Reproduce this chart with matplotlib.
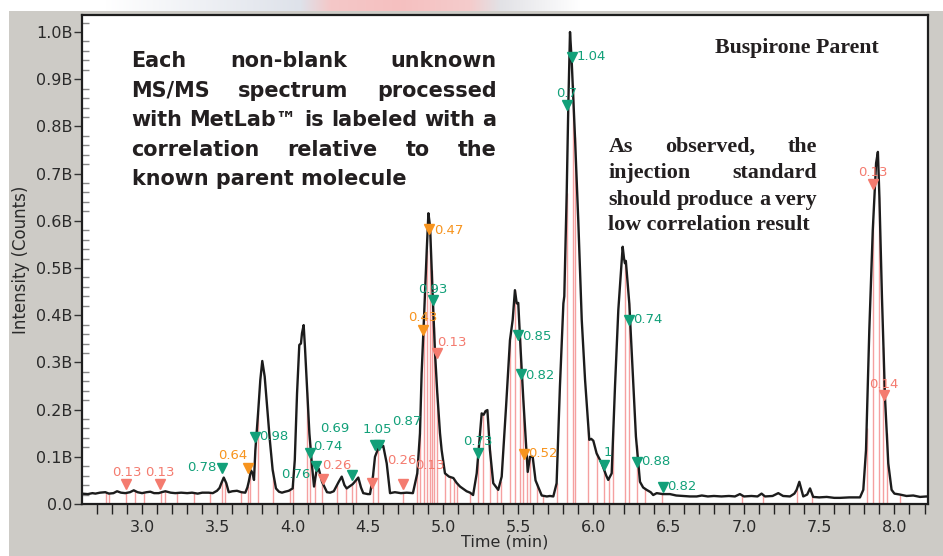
import numpy as np
import matplotlib
matplotlib.use('Agg')
import matplotlib.pyplot as plt
from matplotlib.patches import Rectangle, FancyArrowPatch

# ---------------- data ----------------
time_min = [2.60, 2.64, 2.67, 2.69, 2.72, 2.756, 2.78, 2.81, 2.834, 2.86, 2.889, 2.92, 2.945, 2.97,
            3.00, 3.03, 3.055, 3.08, 3.111, 3.13, 3.155, 3.19, 3.221, 3.26, 3.30, 3.332, 3.37, 3.40,
            3.443, 3.47, 3.498, 3.515, 3.527, 3.543, 3.56, 3.576, 3.60, 3.631, 3.66, 3.686, 3.70,
            3.709, 3.724, 3.735, 3.744, 3.753, 3.771, 3.786, 3.799, 3.815, 3.831, 3.849, 3.868, 3.89,
            3.91, 3.93, 3.95, 3.975, 4.001, 4.015, 4.03, 4.045, 4.056, 4.063, 4.074, 4.083, 4.096,
            4.112, 4.13, 4.143, 4.158, 4.174, 4.196, 4.229, 4.25, 4.274, 4.307, 4.327, 4.345, 4.36,
            4.40, 4.437, 4.455, 4.47, 4.50, 4.515, 4.535, 4.548, 4.57, 4.603, 4.626, 4.648, 4.68,
            4.72, 4.759, 4.80, 4.829, 4.847, 4.858, 4.874, 4.892, 4.903, 4.914, 4.931, 4.947, 4.962,
            4.98, 4.991, 5.013, 5.04, 5.069, 5.09, 5.113, 5.157, 5.18, 5.20, 5.224, 5.246, 5.257,
            5.27, 5.283, 5.295, 5.312, 5.334, 5.367, 5.39, 5.419, 5.445, 5.463, 5.478, 5.49, 5.50,
            5.516, 5.534, 5.551, 5.563, 5.578, 5.596, 5.615, 5.656, 5.69, 5.711, 5.733, 5.755, 5.777,
            5.80, 5.806, 5.822, 5.833, 5.844, 5.855, 5.877, 5.899, 5.922, 5.944, 5.972, 5.985, 5.999,
            6.021, 6.055, 6.085, 6.098, 6.121, 6.143, 6.165, 6.194, 6.203, 6.209, 6.215, 6.238, 6.26,
            6.282, 6.309, 6.33, 6.353, 6.38, 6.397, 6.42, 6.46, 6.508, 6.55, 6.60, 6.641, 6.686, 6.72,
            6.76, 6.80, 6.85, 6.90, 6.94, 6.973, 7.00, 7.05, 7.09, 7.117, 7.14, 7.19, 7.228, 7.26,
            7.306, 7.335, 7.35, 7.368, 7.382, 7.394, 7.42, 7.439, 7.46, 7.50, 7.55, 7.60, 7.638, 7.70,
            7.771, 7.793, 7.811, 7.833, 7.856, 7.878, 7.89, 7.90, 7.917, 7.937, 7.959, 7.981, 8.00,
            8.037, 8.08, 8.125, 8.17, 8.214, 8.223]
intensity_b = [0.022, 0.021, 0.023, 0.022, 0.024, 0.025, 0.022, 0.023, 0.027, 0.024, 0.023, 0.025, 0.029, 0.025,
               0.023, 0.025, 0.026, 0.023, 0.023, 0.025, 0.027, 0.024, 0.023, 0.024, 0.023, 0.024, 0.022, 0.024,
               0.024, 0.023, 0.028, 0.034, 0.044, 0.056, 0.044, 0.025, 0.027, 0.028, 0.025, 0.024, 0.035,
               0.047, 0.071, 0.065, 0.051, 0.114, 0.192, 0.263, 0.303, 0.270, 0.206, 0.136, 0.072, 0.033,
               0.026, 0.024, 0.026, 0.028, 0.033, 0.093, 0.234, 0.337, 0.340, 0.362, 0.379, 0.330, 0.249,
               0.150, 0.079, 0.037, 0.068, 0.075, 0.047, 0.025, 0.024, 0.027, 0.047, 0.058, 0.040, 0.033,
               0.042, 0.056, 0.035, 0.023, 0.021, 0.021, 0.060, 0.100, 0.118, 0.123, 0.086, 0.023, 0.025,
               0.023, 0.024, 0.023, 0.065, 0.150, 0.277, 0.397, 0.538, 0.616, 0.588, 0.446, 0.320, 0.235,
               0.150, 0.114, 0.065, 0.058, 0.055, 0.045, 0.037, 0.027, 0.024, 0.019, 0.065, 0.150, 0.192,
               0.189, 0.197, 0.199, 0.114, 0.044, 0.030, 0.058, 0.206, 0.347, 0.390, 0.453, 0.425, 0.426,
               0.326, 0.220, 0.129, 0.068, 0.100, 0.100, 0.050, 0.018, 0.016, 0.017, 0.016, 0.044, 0.249,
               0.425, 0.440, 0.658, 0.849, 1.000, 0.940, 0.778, 0.600, 0.390, 0.263, 0.136, 0.138, 0.134,
               0.107, 0.086, 0.060, 0.051, 0.065, 0.249, 0.411, 0.545, 0.520, 0.510, 0.515, 0.425, 0.284,
               0.143, 0.047, 0.035, 0.030, 0.025, 0.019, 0.023, 0.021, 0.021, 0.018, 0.017, 0.016, 0.016, 0.018,
               0.016, 0.017, 0.016, 0.017, 0.016, 0.021, 0.016, 0.017, 0.016, 0.022, 0.016, 0.017, 0.023, 0.017,
               0.016, 0.022, 0.030, 0.047, 0.030, 0.016, 0.020, 0.033, 0.015, 0.014, 0.015, 0.013, 0.013, 0.014,
               0.014, 0.030, 0.114, 0.369, 0.580, 0.722, 0.746, 0.651, 0.439, 0.227, 0.086, 0.030, 0.022,
               0.020, 0.017, 0.018, 0.015, 0.016, 0.015]

scan_times = [2.761, 2.783, 2.896, 2.955, 3.011, 3.126, 3.155, 3.233, 3.344, 3.454, 3.532, 3.553, 3.658,
              3.702, 3.72, 3.771, 3.868, 3.985, 4.003, 4.098, 4.118, 4.151, 4.196, 4.296, 4.355, 4.393,
              4.422, 4.537, 4.57, 4.736, 4.829, 4.847, 4.874, 4.892, 4.914, 4.925, 4.94, 4.962, 5.013,
              5.047, 5.073, 5.091, 5.179, 5.235, 5.268, 5.312, 5.357, 5.383, 5.445, 5.478, 5.512, 5.534,
              5.556, 5.578, 5.622, 5.667, 5.755, 5.822, 5.862, 5.877, 5.966, 6.021, 6.07, 6.105, 6.132,
              6.209, 6.238, 6.287, 6.342, 6.453, 6.985, 7.128, 7.35, 7.45, 7.815, 7.859, 7.90, 7.927,
              7.949, 8.037]

mark_time = [2.894, 3.12, 3.532, 3.704, 3.751, 4.118, 4.158, 4.20, 4.393, 4.526, 4.548, 4.577, 4.736,
             4.865, 4.909, 4.931, 4.962, 5.235, 5.50, 5.516, 5.54, 5.822, 5.855, 6.07, 6.238, 6.287,
             6.46, 7.859, 7.932]
mark_intensity = [0.042, 0.042, 0.076, 0.076, 0.142, 0.107, 0.081, 0.054, 0.061, 0.044, 0.125, 0.125, 0.042,
                  0.369, 0.582, 0.432, 0.319, 0.109, 0.358, 0.275, 0.106, 0.845, 0.948, 0.083, 0.390, 0.090,
                  0.037, 0.679, 0.231]
mark_label = ['0.13', '0.13', '0.78', '0.64', '0.98', '0.74', '0.76', '0.26', '0.69', '0.26', '1.05', '0.87',
              '0.13', '0.43', '0.47', '0.93', '0.13', '0.73', '0.85', '0.82', '0.52', '0.7', '1.04', '1',
              '0.74', '0.88', '0.82', '0.13', '0.14']
mark_group = ['low', 'low', 'high', 'mid', 'high', 'high', 'high', 'low', 'high', 'low', 'high', 'high',
              'low', 'mid', 'mid', 'high', 'low', 'high', 'high', 'high', 'mid', 'high', 'high', 'high',
              'high', 'high', 'high', 'low', 'low']

xtick_values = [3.0, 3.5, 4.0, 4.5, 5.0, 5.5, 6.0, 6.5, 7.0, 7.5, 8.0]
xtick_labels = ['3.0', '3.5', '4.0', '4.5', '5.0', '5.5', '6.0', '6.5', '7.0', '7.5', '8.0']
ytick_values = [0.0, 0.1, 0.2, 0.3, 0.4, 0.5, 0.6, 0.7, 0.8, 0.9, 1.0]
ytick_labels = ['0.0', '0.1B', '0.2B', '0.3B', '0.4B', '0.5B', '0.6B', '0.7B', '0.8B', '0.9B', '1.0B']

# ---------------- layout / style ----------------
W, H = 943, 556
group_color = {'high': '#12a079', 'mid': '#f7941e', 'low': '#f47b6f'}
# label offsets in pixels (dx right, dy up) relative to each marker
label_offsets = [(1, 12), (0, 12), (-20, 1), (-15, 13), (19, 0), (18, 7), (-20, -9), (14, 13), (-17, 47),
                 (30, 23), (2, 15), (27, 23), (27, 19), (0, 12), (20, -1), (0, 11), (15, 11), (0, 11),
                 (19, -1), (19, -1), (19, 0), (0, 12), (20, 0), (4, 12), (19, 0), (19, 0), (19, 0),
                 (0, 11), (0, 10)]

def fx(px):
    return px / W

def fy(py):
    return 1 - py / H

fig = plt.figure(figsize=(W / 100, H / 100), dpi=100, facecolor='white')

# top decorative strip
strip_x = np.arange(W)
stops_x = [0, 105, 300, 330, 400, 470, 500, 580, W]
stops_r = [255, 255, 222, 244, 246, 244, 226, 255, 255]
stops_g = [255, 255, 226, 200, 192, 204, 226, 255, 255]
stops_b = [255, 255, 234, 200, 192, 204, 230, 255, 255]
row = np.stack([np.interp(strip_x, stops_x, stops_r),
                np.interp(strip_x, stops_x, stops_g),
                np.interp(strip_x, stops_x, stops_b)], axis=-1) / 255.0
strip = np.repeat(row[None, :, :], 11, axis=0)
fig.figimage(strip, xo=0, yo=H - 11, zorder=0)

# gray panel
fig.patches.append(Rectangle((fx(9), 0), 1 - fx(9), fy(11), transform=fig.transFigure,
                             facecolor='#cdcbc6', edgecolor='none', zorder=0.5))

ax = fig.add_axes([fx(82), fy(504), fx(928) - fx(82), fy(15) - fy(504)])
ax.set_facecolor('white')
ax.set_zorder(1)

t_arr = np.array(time_min)
i_arr = np.array(intensity_b)
scan_arr = np.array(scan_times)
scan_top = np.interp(scan_arr, t_arr, i_arr)
ax.vlines(scan_arr, 0, scan_top, colors='#f5a0a0', linewidth=1.0, zorder=1)
ax.plot(t_arr, i_arr, color='#1c1c1c', linewidth=1.7, zorder=2)

for t, y, lab, g, (dx, dy) in zip(mark_time, mark_intensity, mark_label, mark_group, label_offsets):
    c = group_color[g]
    ax.annotate(lab, (t, y), xytext=(dx, dy), textcoords='offset pixels', ha='center', va='center',
                fontsize=9.5, color=c, zorder=3, annotation_clip=False)
    ax.plot([t], [y], marker='v', markersize=7.5, color=c, linestyle='none', zorder=4)

ax.set_xlim(2.601, 8.223)
ax.set_ylim(0, 1.036)
ax.set_xticks(xtick_values)
ax.set_xticklabels(xtick_labels)
ax.set_xticks(np.round(np.arange(2.7, 8.25, 0.1), 2), minor=True)
ax.set_yticks(ytick_values)
ax.set_yticklabels(ytick_labels)
ax.set_yticks(np.round(np.arange(0.0, 1.03, 0.02), 2), minor=True)

ax.tick_params(axis='x', which='both', direction='out', length=7.5, width=1.0, color='#222222',
               labelsize=11.5, labelcolor='#2a2a2a', pad=4)
ax.tick_params(axis='y', which='major', direction='out', length=5.5, width=1.0, color='#333333',
               labelsize=11.5, labelcolor='#2a2a2a', pad=1.5)
ax.tick_params(axis='y', which='minor', direction='in', length=5, width=1.0, color='#888888')
for s in ax.spines.values():
    s.set_linewidth(1.6)
    s.set_color('#1e1e1e')

ax.set_xlabel('Time (min)', fontsize=11.5, color='#2a2a2a', labelpad=0)
ax.set_ylabel('Intensity (Counts)', fontsize=12, color='#2a2a2a', labelpad=4)

# ---------------- annotations ----------------
renderer = fig.canvas.get_renderer()

def text_width(s, **kw):
    t = fig.text(0, 0, s, **kw)
    w = t.get_window_extent(renderer=renderer).width
    t.remove()
    return w

def justified_block(lines, x0, x1, baselines, fontkw, fit_line, fit_width, justify_last=False):
    w10 = text_width(lines[fit_line], fontsize=10, **fontkw)
    size = 10 * fit_width / w10
    for k, (line, yb) in enumerate(zip(lines, baselines)):
        words = line.split(' ')
        last = (k == len(lines) - 1) and not justify_last
        if last or len(words) == 1:
            fig.text(fx(x0), fy(yb), line, ha='left', va='baseline', fontsize=size, **fontkw)
            continue
        widths = [text_width(w, fontsize=size, **fontkw) for w in words]
        gap = (x1 - x0 - sum(widths)) / (len(words) - 1)
        x = x0
        for w, wd in zip(words, widths):
            fig.text(fx(x), fy(yb), w, ha='left', va='baseline', fontsize=size, **fontkw)
            x += wd + gap
    return size

left_lines = ['Each non-blank unknown', 'MS/MS spectrum processed', 'with MetLab\u2122 is labeled with a',
              'correlation relative to the', 'known parent molecule']
justified_block(left_lines, 131.5, 496.5, [67.3, 96.8, 126.5, 156.0, 185.3],
                dict(family='DejaVu Sans', fontweight='bold', color='#231f20'), 2, 365)

right_lines = ['As observed, the', 'injection standard', 'should produce a very', 'low correlation result']
justified_block(right_lines, 608.5, 817, [151.7, 178.3, 205.0, 230.5],
                dict(family='Liberation Serif', fontweight='bold', color='#231f20'), 3, 201)

bw = text_width('Buspirone Parent', fontsize=10, family='Liberation Serif', fontweight='bold')
fig.text(fx(715), fy(53.3), 'Buspirone Parent', ha='left', va='baseline', fontsize=10 * 164 / bw,
         family='Liberation Serif', fontweight='bold', color='#231f20')

# arrows
teal = FancyArrowPatch((fx(689), fy(43)), (fx(613), fy(52)), transform=fig.transFigure,
                       arrowstyle='-|>,head_length=0.8,head_width=0.35', mutation_scale=15,
                       color='#15898a', linewidth=1.4, shrinkA=0, shrinkB=0)
fig.add_artist(teal)
for tip in [(852, 191.5), (853.5, 356)]:
    arr = FancyArrowPatch((fx(819.5), fy(225)), (fx(tip[0]), fy(tip[1])), transform=fig.transFigure,
                          arrowstyle='-|>,head_length=0.8,head_width=0.35', mutation_scale=15,
                          color='#1d5fa6', linewidth=1.2, shrinkA=0, shrinkB=0)
    fig.add_artist(arr)

fig.savefig('out.png', dpi=100, facecolor=fig.get_facecolor())
